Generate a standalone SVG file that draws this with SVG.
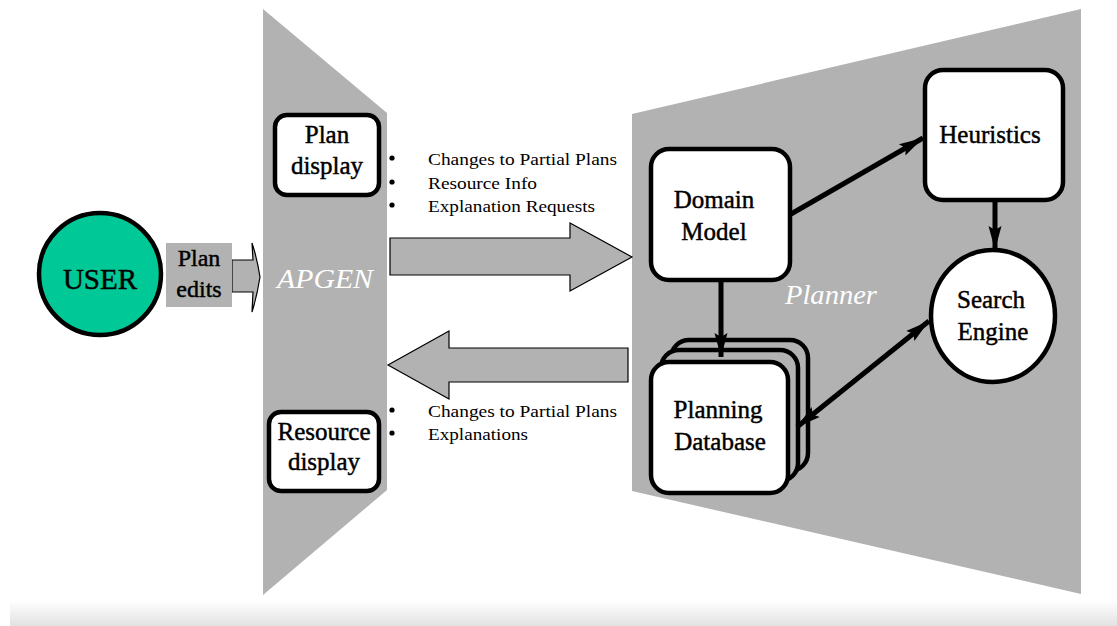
<svg xmlns="http://www.w3.org/2000/svg" width="1117" height="626" viewBox="0 0 1117 626">
  <defs>
    <linearGradient id="floor" x1="0" y1="0" x2="0" y2="1">
      <stop offset="0" stop-color="#ffffff"/>
      <stop offset="1" stop-color="#e2e2e2"/>
    </linearGradient>
    <marker id="head" markerUnits="userSpaceOnUse" markerWidth="26" markerHeight="16" viewBox="0 0 26 16" refX="24" refY="8" orient="auto-start-reverse">
      <path d="M0,1.5 L24,8 L0,14.5 L4,8 Z" fill="#000"/>
    </marker>
    <style>
      .panel { fill: #b2b2b2; }
      .box { fill: #fff; stroke: #000; stroke-width: 4.5; }
      .stack { fill: #b2b2b2; stroke: #000; stroke-width: 4.5; }
      .flow { fill: #b2b2b2; stroke: #000; stroke-width: 1.2; }
      .lbl { font-family: "Liberation Serif", "Times New Roman", serif; font-size: 25px; fill: #000; stroke: #000; stroke-width: 0.45; text-anchor: middle; }
      .zone { font-family: "Liberation Serif", "Times New Roman", serif; font-style: italic; font-size: 27px; fill: #fff; }
      .note { font-family: "Liberation Serif", "Times New Roman", serif; font-size: 17px; fill: #000; }
      .link { fill: none; stroke: #000; stroke-width: 5; marker-end: url(#head); }
    </style>
  </defs>

  <rect width="1117" height="626" fill="#fff"/>
  <rect x="10" y="600" width="1107" height="26" fill="url(#floor)"/>

  <!-- APGEN and Planner panels -->
  <g id="apgen">
    <polygon class="panel" points="263,9 387,113 387,490 263,595"/>
    <text class="zone" x="277" y="288" textLength="96" lengthAdjust="spacingAndGlyphs">APGEN</text>
  </g>
  <g id="planner">
    <polygon class="panel" points="632,114 1081,9 1081,594 632,491"/>
    <text class="zone" x="785" y="304" textLength="92" lengthAdjust="spacingAndGlyphs">Planner</text>
  </g>

  <!-- data flows between APGEN and the planner -->
  <g id="flows">
    <polygon class="flow" points="390,238 570,238 570,223 632,257 570,291 570,275 390,275"/>
    <polygon class="flow" points="628,348 449,348 449,331 388,365 449,399 449,382 628,382"/>
    <path class="flow" d="M232,260 L253,260 L252,243 Q257,258 260,277 Q257,296 252,312 L253,292 L232,292 Z"/>
  </g>

  <g id="to-planner-notes">
    <circle cx="392" cy="158" r="2.6"/>
    <circle cx="392" cy="182" r="2.6"/>
    <circle cx="392" cy="205" r="2.6"/>
    <text class="note" x="428" y="165" textLength="189" lengthAdjust="spacingAndGlyphs">Changes to Partial Plans</text>
    <text class="note" x="428" y="189" textLength="109" lengthAdjust="spacingAndGlyphs">Resource Info</text>
    <text class="note" x="428" y="212" textLength="167" lengthAdjust="spacingAndGlyphs">Explanation Requests</text>
  </g>
  <g id="to-apgen-notes">
    <circle cx="392" cy="410" r="2.6"/>
    <circle cx="392" cy="433" r="2.6"/>
    <text class="note" x="428" y="417" textLength="189" lengthAdjust="spacingAndGlyphs">Changes to Partial Plans</text>
    <text class="note" x="428" y="440" textLength="100" lengthAdjust="spacingAndGlyphs">Explanations</text>
  </g>

  <!-- nodes -->
  <g id="user">
    <circle cx="100" cy="274" r="61" fill="#00c896" stroke="#000" stroke-width="4.5"/>
    <text class="lbl" x="100" y="289" style="font-size:29px">USER</text>
  </g>
  <g id="plan-edits">
    <rect x="166" y="243" width="66" height="64" fill="#b2b2b2"/>
    <text class="lbl" x="199" y="266" style="font-size:24px">Plan</text>
    <text class="lbl" x="199" y="297" style="font-size:24px">edits</text>
  </g>
  <g id="plan-display">
    <rect class="box" x="275" y="115" width="104" height="80" rx="12"/>
    <text class="lbl" x="327" y="143">Plan</text>
    <text class="lbl" x="327" y="174">display</text>
  </g>
  <g id="resource-display">
    <rect class="box" x="269" y="412" width="110" height="79" rx="12"/>
    <text class="lbl" x="324" y="440">Resource</text>
    <text class="lbl" x="324" y="470">display</text>
  </g>
  <g id="domain-model">
    <rect class="box" x="651" y="149" width="139" height="131" rx="18"/>
    <text class="lbl" x="714" y="208">Domain</text>
    <text class="lbl" x="714" y="240">Model</text>
  </g>
  <g id="heuristics">
    <rect class="box" x="925" y="70" width="138" height="130" rx="18"/>
    <text class="lbl" x="990" y="143">Heuristics</text>
  </g>
  <g id="search-engine">
    <ellipse class="box" cx="993" cy="316" rx="62" ry="66"/>
    <text class="lbl" x="991" y="308">Search</text>
    <text class="lbl" x="993" y="340">Engine</text>
  </g>
  <g id="planning-database">
    <rect class="stack" x="671" y="340" width="137" height="131" rx="18"/>
    <rect class="stack" x="661" y="350" width="137" height="131" rx="18"/>
    <rect class="box" x="651" y="362" width="137" height="131" rx="18"/>
    <text class="lbl" x="718" y="418">Planning</text>
    <text class="lbl" x="720" y="450">Database</text>
  </g>

  <!-- connectors inside the planner -->
  <g id="connectors">
    <line class="link" x1="721" y1="282" x2="721" y2="357"/>
    <line class="link" x1="791" y1="214" x2="923" y2="138"/>
    <line class="link" x1="995" y1="202" x2="995" y2="250"/>
    <line class="link" x1="929" y1="321" x2="797" y2="427" style="marker-start:url(#head)"/>
  </g>
</svg>
